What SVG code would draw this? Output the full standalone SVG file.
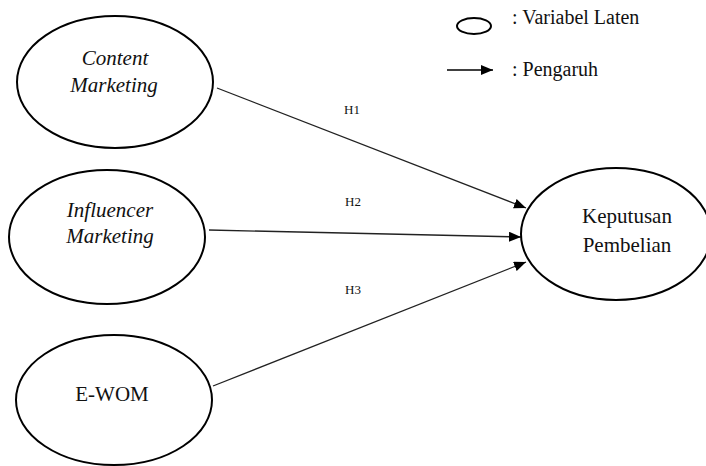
<svg xmlns="http://www.w3.org/2000/svg" width="706" height="466" viewBox="0 0 706 466">
<defs>
<marker id="ah" markerWidth="12" markerHeight="10" refX="12" refY="5" orient="auto" markerUnits="userSpaceOnUse">
<path d="M0,0 L12,5 L0,10 Z" fill="#000"/>
</marker>
<style>
.node ellipse{fill:#fff;stroke:#000;stroke-width:2}
text{font-family:"Liberation Serif","Times New Roman",serif;fill:#111;text-anchor:middle}
.lbl{font-size:21px}
.it{font-style:italic}
.h{font-size:13px}
.conn line{stroke:#222;stroke-width:1.3;marker-end:url(#ah)}
.leg{text-anchor:start;font-size:20px}
</style>
</defs>
<rect width="706" height="466" fill="#fff"/>
<g id="legend">
<ellipse cx="474" cy="26" rx="17" ry="8" fill="#fff" stroke="#000" stroke-width="2"/>
<text class="leg" x="512" y="24">: Variabel Laten</text>
<line x1="447" y1="70" x2="493" y2="70" stroke="#000" stroke-width="1.3" marker-end="url(#ah)"/>
<text class="leg" x="512" y="76">: Pengaruh</text>
</g>
<g class="conn" id="connectors">
<line x1="217" y1="88" x2="526" y2="208"/>
<line x1="209" y1="230" x2="521" y2="237"/>
<line x1="213" y1="386" x2="526" y2="262"/>
<text class="h" x="352" y="114">H1</text>
<text class="h" x="353" y="206">H2</text>
<text class="h" x="353" y="294">H3</text>
</g>
<g class="node" id="content-marketing">
<ellipse cx="115" cy="82" rx="98" ry="66"/>
<text class="lbl it" x="115" y="65">Content</text>
<text class="lbl it" x="114" y="92">Marketing</text>
</g>
<g class="node" id="influencer-marketing">
<ellipse cx="107" cy="237" rx="98" ry="67"/>
<text class="lbl it" x="110" y="217">Influencer</text>
<text class="lbl it" x="110" y="243">Marketing</text>
</g>
<g class="node" id="e-wom">
<ellipse cx="114" cy="400" rx="98" ry="65"/>
<text class="lbl" x="112" y="401">E-WOM</text>
</g>
<g class="node" id="keputusan-pembelian">
<ellipse cx="616" cy="234" rx="95" ry="66"/>
<text class="lbl" x="627" y="223">Keputusan</text>
<text class="lbl" x="627" y="252">Pembelian</text>
</g>
</svg>
